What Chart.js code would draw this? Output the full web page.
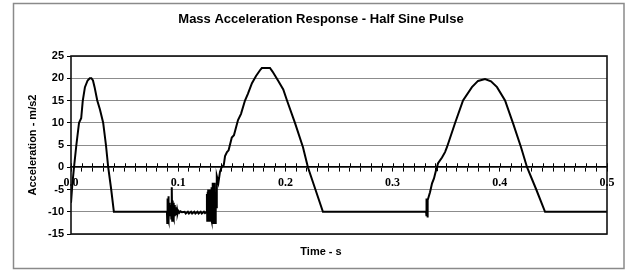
<!DOCTYPE html>
<html><head><meta charset="utf-8">
<script src="https://cdn.jsdelivr.net/npm/chart.js@4/dist/chart.umd.min.js"></script>
<style>html,body{margin:0;padding:0;background:#fff}#wrap{width:629px;height:275px}</style>
</head><body><div id="wrap"><canvas id="c" width="629" height="275"></canvas></div>
<script>
// ---- data ----
const timeS = [
  0, 0.0012, 0.0028, 0.005, 0.0075, 0.0095, 0.011, 0.013, 0.0155, 0.0175, 0.019, 0.0205, 0.022, 0.0245, 0.027, 0.030, 0.0326, 0.0347, 0.0375, 0.040,
  0.0895, 0.0898, 0.0901, 0.0905, 0.0908, 0.0912, 0.0916, 0.092, 0.0924, 0.0928, 0.0932, 0.0936, 0.094, 0.0944, 0.0948, 0.0952, 0.0956, 0.096, 0.0964, 0.0968, 0.0972, 0.0976, 0.098, 0.0985, 0.099, 0.0995, 0.1, 0.101, 0.102, 0.1035,
  0.106, 0.107, 0.109, 0.110, 0.112, 0.113, 0.115, 0.116, 0.118, 0.119, 0.121, 0.122, 0.124, 0.125,
  0.1265, 0.1268, 0.1271, 0.1274, 0.1277, 0.128, 0.1283, 0.1286, 0.1289, 0.1292, 0.1295, 0.1298, 0.1301, 0.1304, 0.1307, 0.131, 0.1313, 0.1316, 0.132, 0.1324, 0.1328, 0.1332, 0.1336, 0.134, 0.1345, 0.135, 0.1355, 0.136, 0.1375, 0.139, 0.1405,
  0.1425, 0.1437, 0.1455, 0.147, 0.150, 0.152, 0.1558, 0.1586, 0.1623, 0.165, 0.1688, 0.1726, 0.1763, 0.178, 0.1856, 0.188, 0.1931, 0.198, 0.2015, 0.209, 0.2164, 0.221, 0.228, 0.235,
  0.3312, 0.3315, 0.3318, 0.3321, 0.3324, 0.3327, 0.333, 0.3349, 0.3368, 0.3386, 0.3405, 0.3414, 0.3424, 0.3461, 0.3489,
  0.3507, 0.3582, 0.3657, 0.374, 0.3797, 0.3862, 0.3918, 0.3974, 0.4049, 0.4123, 0.4198, 0.4254, 0.434, 0.4422, 0.5
];
const accel = [
  -8, -4, 0, 5, 10, 11, 15, 18, 19.5, 20, 20, 19.5, 18, 15, 13, 10, 5, 0, -5, -10,
  -10, -12.5, -7, -11.5, -6.5, -12, -8, -11, -9, -11, -8.5, -11.5, -4.5, -12, -7.5, -11, -8, -11.5, -8.5, -11, -9, -10.8, -9.3, -10.5, -9.6, -10.3, -9.8, -10.2, -9.9, -10.1,
  -10, -10.4, -10, -10.4, -10, -10.4, -10, -10.4, -10, -10.4, -10, -10.4, -10, -10.3,
  -10, -6, -12, -5.5, -12, -5, -11.5, -5.5, -12, -6, -11.5, -5, -12, -5.5, -11.5, -4.5, -12, -5, -11, -3.5, -12.5, -7, -9, -3.5, -12.5, -6, -9, -2, -3.5, -1, 0,
  0.5, 2.5, 3.4, 3.8, 6.7, 7.2, 10.6, 12.0, 15, 16.5, 18.9, 20.5, 21.8, 22.3, 22.3, 21.5, 19.5, 17.5, 15, 9.9, 4.5, 0, -5, -10,
  -10, -7, -11, -7.2, -11.3, -7.5, -7.4, -5.6, -3.6, -2.5, -0.7, 0, 0.9, 2.2, 3.4,
  4.5, 9.9, 15, 18, 19.4, 19.8, 19.3, 18, 15, 9.9, 4.5, 0, -5, -10, -10
];
const yTickValues = [-15, -10, -5, 0, 5, 10, 15, 20, 25];
const xTickLabels = ['0.0', '0.1', '0.2', '0.3', '0.4', '0.5'];
const xMinorStep = 0.01;
const chartTitle = 'Mass Acceleration Response - Half Sine Pulse';
const xTitle = 'Time - s';
const yTitle = 'Acceleration - m/s2';

// ---- chart ----
const points = timeS.map((t, i) => ({x: t, y: accel[i]}));
const SANS = "'Liberation Sans', Arial, sans-serif";
const SERIF = "'Liberation Serif', 'Times New Roman', serif";

const framePlugin = {
  id: 'frame',
  beforeDraw(chart) {
    const ctx = chart.ctx;
    ctx.save();
    ctx.fillStyle = '#fff';
    ctx.fillRect(0, 0, chart.width, chart.height);
    ctx.strokeStyle = '#8a8a8a';
    ctx.lineWidth = 1.5;
    ctx.strokeRect(13.5, 3.5, 610.5, 265);
    ctx.restore();
  },
  afterDraw(chart) {
    const ctx = chart.ctx;
    const a = chart.chartArea;
    const xs = chart.scales.x, ys = chart.scales.y;
    const y0 = ys.getPixelForValue(0);
    ctx.save();
    ctx.strokeStyle = '#000';
    ctx.lineWidth = 1;
    ctx.beginPath();
    xs.ticks.forEach(tk => {
      const px = Math.round(xs.getPixelForValue(tk.value)) + 0.5;
      ctx.moveTo(px, y0 - 4);
      ctx.lineTo(px, y0);
    });
    ctx.stroke();
    ctx.lineWidth = 1.6;
    ctx.strokeStyle = '#111';
    ctx.strokeRect(a.left, a.top, a.right - a.left, a.bottom - a.top);
    ctx.restore();
  }
};

new Chart(document.getElementById('c'), {
  type: 'line',
  data: {
    datasets: [{
      data: points,
      borderColor: '#000',
      borderWidth: 2,
      pointRadius: 0,
      tension: 0,
      fill: false
    }]
  },
  options: {
    responsive: false,
    animation: false,
    devicePixelRatio: 1,
    layout: {padding: {left: 35, right: 22, top: 0, bottom: 0}},
    plugins: {
      legend: {display: false},
      tooltip: {enabled: false},
      title: {
        display: true, text: chartTitle, color: '#000',
        font: {family: SANS, size: 13, weight: 'bold'},
        padding: {top: 12, bottom: 28.4}
      },
      subtitle: {
        display: true, text: xTitle, position: 'bottom', color: '#000',
        font: {family: SANS, size: 11, weight: 'bold'},
        padding: {top: 11.4, bottom: 16.4}
      }
    },
    scales: {
      x: {
        type: 'linear',
        min: 0, max: 0.5,
        position: {y: 0},
        afterBuildTicks(scale) {
          const n = Math.round((scale.max - scale.min) / xMinorStep);
          scale.ticks = Array.from({length: n + 1}, (_, i) => ({value: +(i * xMinorStep).toFixed(2)}));
        },
        ticks: {
          autoSkip: false, maxRotation: 0, minRotation: 0,
          color: '#000', padding: 4,
          font: {family: SERIF, size: 12, weight: 'bold'},
          callback(v) {
            const i = Math.round(v * 100);
            return i % 10 === 0 ? xTickLabels[i / 10] : '';
          }
        },
        grid: {drawOnChartArea: false, drawTicks: true, tickLength: 4, color: '#000', lineWidth: 1},
        border: {display: true, color: '#000', width: 1.6}
      },
      y: {
        type: 'linear',
        min: -15, max: 25,
        afterBuildTicks(scale) {
          scale.ticks = yTickValues.map(v => ({value: v}));
        },
        afterFit(scale) { scale.width = 36; },
        ticks: {
          color: '#000', padding: 3,
          font: {family: SANS, size: 11, weight: 'bold'}
        },
        grid: {color: '#8c8c8c', lineWidth: 1, tickColor: '#000', tickLength: 4},
        border: {display: false},
        title: {
          display: true, text: yTitle, color: '#000',
          font: {family: SANS, size: 11, weight: 'bold'},
          padding: {top: -8.6, bottom: 0}
        }
      }
    }
  },
  plugins: [framePlugin]
});
</script>
</body></html>
